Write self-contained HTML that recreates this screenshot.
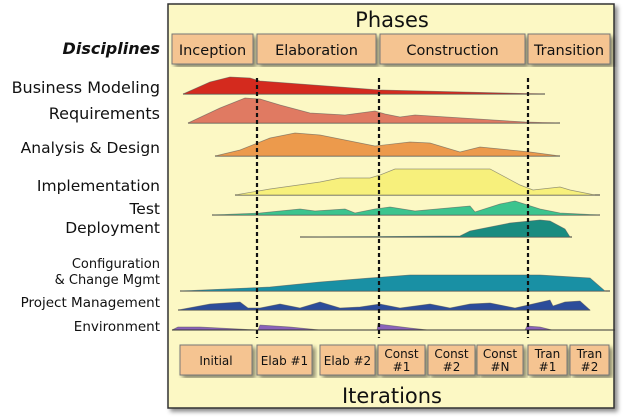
<!DOCTYPE html>
<html><head><meta charset="utf-8"><style>
body{margin:0;width:623px;height:420px;background:#fff;overflow:hidden;font-family:"DejaVu Sans","Liberation Sans",sans-serif;}
svg{position:absolute;left:0;top:0}
</style></head><body>
<svg id="c" width="623" height="420">
<defs><filter id="sh" x="-5%" y="-5%" width="115%" height="115%"><feDropShadow dx="3" dy="3" stdDeviation="2" flood-color="#000" flood-opacity="0.45"/></filter></defs>
<rect x="168" y="4" width="446" height="404" fill="#fcf8c4" stroke="#333" stroke-width="1.5" filter="url(#sh)"/>
<text x="392" y="27" text-anchor="middle" font-size="21" fill="#111">Phases</text>
<text x="392" y="403" text-anchor="middle" font-size="21" fill="#111">Iterations</text>
<text x="160" y="54" text-anchor="end" font-size="16" font-weight="bold" font-style="italic" fill="#111">Disciplines</text>
<g id="phases"></g><g id="marks"></g><g id="labels"></g><g id="iters"></g>
</svg>
<script>
const phaseNames=["Inception","Elaboration","Construction","Transition"];
const phaseStart=[2,87,210,358];
const phaseEnd=[83,206,355,440];
const iterLines1=["Initial","Elab #1","Elab #2","Const","Const","Const","Tran","Tran"];
const iterLines2=["","","","#1","#2","#N","#1","#2"];
const iterStart=[10,87,150,208,258,307,358,400];
const iterEnd=[82,142,205,255,305,353,397,439];
const disciplines=["Business Modeling","Requirements","Analysis & Design","Implementation","Test","Deployment","Configuration|& Change Mgmt","Project Management","Environment"];
const colors=["#d42a1e","#e07a62","#ec9a4c","#f7f07c","#3cc48e","#1a8c80","#1990a4","#2c4c9a","#8a62ba"];
const baseY=[94,123,156,195,215,237,291,310,330];
const labelY=[93,119,153,191,214,233,284,307,331];
const labelSize=[16,16,15.5,15.5,15.5,15.5,13,13.5,13.5];
const lineEnd=[375,390,390,430,430,402,440,420,445];
const biz=[[13,0],[40,12],[60,17],[80,16],[90,13],[210,4],[375,0]];
const req=[[18,0],[50,15],[75,25],[90,24],[110,18],[140,10],[175,8],[205,12],[215,9],[230,6],[245,8],[355,1],[390,0]];
const ana=[[45,0],[70,6],[100,18],[125,23],[150,21],[205,10],[240,14],[260,13],[290,4],[310,9],[360,4],[390,0]];
const impl=[[65,0],[100,6],[150,13],[170,17],[200,17],[210,20],[225,26],[320,26],[350,10],[363,5],[390,8],[400,5],[425,0]];
const test=[[42,0],[90,2],[130,6],[145,4],[175,6],[185,2],[205,6],[220,8],[245,4],[300,9],[305,3],[330,11],[345,14],[370,6],[390,2],[430,0]];
const depl=[[130,0],[290,1],[300,6],[340,14],[370,17],[380,16],[395,8],[400,0]];
const conf=[[10,0],[100,4],[150,9],[200,13],[240,16],[370,16],[420,13],[435,0]];
const pm=[[8,0],[40,6],[70,8],[78,2],[90,2],[110,6],[130,2],[150,8],[170,2],[190,3],[210,6],[230,2],[260,6],[280,2],[300,6],[320,7],[345,2],[380,10],[383,4],[395,8],[410,9],[420,0]];
const env=[[2,0],[8,3],[30,3],[88,0],[90,5],[120,3],[150,0],[207,0],[208,6],[240,2],[258,0],[355,0],[357,4],[370,3],[382,0]];
const series=[biz,req,ana,impl,test,depl,conf,pm,env];
const milestones=[87,209,358];
const NS="http://www.w3.org/2000/svg";
function x(t){return 170+t;}
function yH(i,h){return baseY[i]-h;}
function mk(tag,attrs,parent){const e=document.createElementNS(NS,tag);for(const k in attrs)e.setAttribute(k,attrs[k]);parent.appendChild(e);return e;}
const gP=document.getElementById('phases'),gM=document.getElementById('marks'),gL=document.getElementById('labels'),gI=document.getElementById('iters');
phaseNames.forEach((n,i)=>{
 const r=mk('rect',{x:x(phaseStart[i]),y:34,width:phaseEnd[i]-phaseStart[i],height:30,fill:'#f5c491',stroke:'#777','stroke-width':1,filter:'url(#sh)'},gP);
 
 
 const t=mk('text',{x:x((phaseStart[i]+phaseEnd[i])/2),y:55,'text-anchor':'middle','font-size':14.5,fill:'#111'},gP);t.textContent=n;
 
 
});
series.forEach((pts,i)=>{
 const l=mk('line',{x1:x(pts[0][0]),x2:x(lineEnd[i]),y1:baseY[i],y2:baseY[i],stroke:'#333','stroke-width':1},gM);
 
 
 const d=pts.map((p,k)=>(k?'L':'M')+x(p[0])+','+yH(i,p[1])).join(' ')+'Z';
 const p=mk('path',{d:d,fill:colors[i],stroke:'#555','stroke-width':0.7,'stroke-opacity':0.6},gM);
 
 
 const parts=disciplines[i].split('|');
 const t=mk('text',{x:160,y:labelY[i]-(parts.length-1)*16,'text-anchor':'end','font-size':labelSize[i],fill:'#111'},gL);
 
 
 parts.forEach((s,k)=>{const ts=mk('tspan',{x:160,dy:k?16:0},t);ts.textContent=s;});
});
mk('line',{x1:x(2),x2:614,y1:baseY[8],y2:baseY[8],stroke:'#333','stroke-width':1},gM);
milestones.forEach(m=>{
 const l=mk('line',{x1:x(m),x2:x(m),y1:78,y2:338,stroke:'#111','stroke-width':2.2,'stroke-dasharray':'4,3'},gM);
 
 
});
iterLines1.forEach((n,i)=>{
 const r=mk('rect',{x:x(iterStart[i]),y:345,width:iterEnd[i]-iterStart[i],height:30,fill:'#f5c491',stroke:'#777','stroke-width':1,filter:'url(#sh)'},gI);
 
 
 const cx=x((iterStart[i]+iterEnd[i])/2);
 const t=mk('text',{x:cx,y:iterLines2[i]?358:365,'text-anchor':'middle','font-size':12,fill:'#111'},gI);
 
 
 const a=mk('tspan',{x:cx},t);a.textContent=n;
 if(iterLines2[i]){const b=mk('tspan',{x:cx,dy:13},t);b.textContent=iterLines2[i];}
});
</script>
</body></html>
